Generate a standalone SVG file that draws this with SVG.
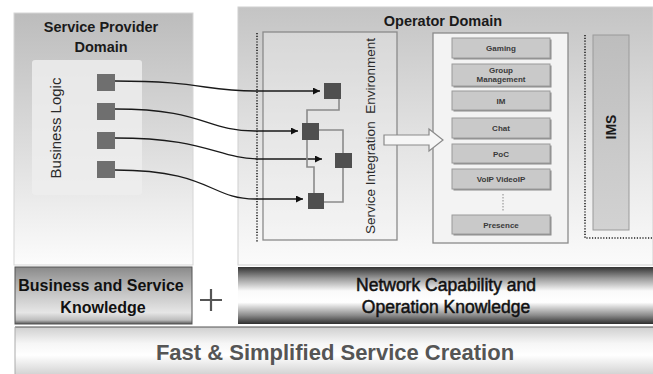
<svg xmlns="http://www.w3.org/2000/svg" width="653" height="374" viewBox="0 0 653 374">
<defs>
<linearGradient id="gDom" x1="0" y1="0" x2="0" y2="1">
<stop offset="0" stop-color="#bcbcbc"/><stop offset="0.55" stop-color="#dedede"/><stop offset="1" stop-color="#fcfcfc"/>
</linearGradient>
<linearGradient id="gOp" x1="0" y1="0" x2="0" y2="1">
<stop offset="0" stop-color="#c4c4c4"/><stop offset="0.5" stop-color="#e2e2e2"/><stop offset="1" stop-color="#fbfbfb"/>
</linearGradient>
<linearGradient id="gBiz" x1="0" y1="0" x2="0" y2="1">
<stop offset="0" stop-color="#8a8a8a"/><stop offset="0.45" stop-color="#c4c4c4"/><stop offset="0.8" stop-color="#e6e6e6"/><stop offset="0.93" stop-color="#bdbdbd"/><stop offset="1" stop-color="#555"/>
</linearGradient>
<linearGradient id="gNet" x1="0" y1="0" x2="0" y2="1">
<stop offset="0" stop-color="#333"/><stop offset="0.2" stop-color="#9a9a9a"/><stop offset="0.42" stop-color="#fafafa"/><stop offset="0.62" stop-color="#ffffff"/><stop offset="0.85" stop-color="#8a8a8a"/><stop offset="1" stop-color="#2e2e2e"/>
</linearGradient>
<linearGradient id="gFast" x1="0" y1="0" x2="0" y2="1">
<stop offset="0" stop-color="#cfcfcf"/><stop offset="0.35" stop-color="#f6f6f6"/><stop offset="0.6" stop-color="#ffffff"/><stop offset="1" stop-color="#d4d4d4"/>
</linearGradient>
<linearGradient id="gIms" x1="0" y1="0" x2="0" y2="1">
<stop offset="0" stop-color="#bdbdbd"/><stop offset="1" stop-color="#d2d2d2"/>
</linearGradient>
<marker id="ah" viewBox="0 0 10 10" refX="10" refY="5" markerWidth="7" markerHeight="7" markerUnits="userSpaceOnUse" orient="auto">
<path d="M0,0 L10,5 L0,10 z" fill="#111"/>
</marker>
<style>
.t{font-family:"Liberation Sans",Arial,sans-serif;}
.title{font-size:14.5px;font-weight:bold;fill:#1a1a1a;text-anchor:middle;}
.svc{fill:#c9c9c9;stroke:#9a9a9a;stroke-width:1;}
.shd{fill:#8c8c8c;}
.svct{font-family:"Liberation Sans",Arial,sans-serif;font-size:8px;font-weight:bold;fill:#3a3a3a;text-anchor:middle;}
.src{fill:#6f6f6f;}
.dst{fill:#4f4f4f;}
.conn{fill:none;stroke:#1a1a1a;stroke-width:1.3;}
.wire{fill:none;stroke:#8a8a8a;stroke-width:1.6;}
.dot{fill:none;stroke:#222;stroke-width:1.6;stroke-dasharray:1.2 1.6;}
</style>
</defs>
<rect width="653" height="374" fill="#fff"/>

<g id="service-provider-domain">
<rect x="14" y="13" width="179" height="252" fill="url(#gDom)" stroke="#d6d6d6" stroke-width="1"/>
<text class="t title" x="101" y="32">Service Provider</text>
<text class="t title" x="101" y="52">Domain</text>
</g>

<g id="business-logic">
<rect x="32" y="60" width="110" height="135" rx="3" fill="#ededed" fill-opacity="0.85"/>
<text class="t" transform="translate(60.5,128) rotate(-90)" text-anchor="middle" font-size="15" fill="#2a2a2a">Business Logic</text>
<rect class="src" x="97" y="74" width="18" height="17"/>
<rect class="src" x="97" y="103" width="18" height="17"/>
<rect class="src" x="97" y="132" width="18" height="17"/>
<rect class="src" x="97" y="161" width="18" height="17"/>
</g>

<g id="operator-domain">
<rect x="238" y="7" width="415" height="258" fill="url(#gOp)" stroke="#d0d0d0" stroke-width="1"/>
<text class="t title" x="443" y="26">Operator Domain</text>
</g>

<g id="service-integration-environment">
<rect x="263" y="32" width="134" height="208" fill="#f2f2f2" fill-opacity="0.35" stroke="#8a8a8a" stroke-width="1.3"/>
<text class="t" transform="translate(375,136) rotate(-90)" text-anchor="middle" font-size="13.5" fill="#2a2a2a" xml:space="preserve">Service Integration  Environment</text>
<rect class="dst" x="324" y="83" width="17" height="16"/>
<rect class="dst" x="302" y="123" width="17" height="17"/>
<rect class="dst" x="335" y="153" width="17" height="15"/>
<rect class="dst" x="308" y="193" width="16" height="16"/>
</g>

<g id="services">
<rect x="433" y="33" width="135" height="210" fill="#f3f3f3" stroke="#8a8a8a" stroke-width="1.3"/>
<rect class="shd" x="453.5" y="39.5" width="98" height="20"/><rect class="svc" x="452" y="38" width="98" height="20"/>
<text class="svct" x="501" y="51">Gaming</text>
<rect class="shd" x="453.5" y="65.5" width="98" height="22"/><rect class="svc" x="452" y="64" width="98" height="22"/>
<text class="svct" x="501" y="73">Group</text><text class="svct" x="501" y="82">Management</text>
<rect class="shd" x="453.5" y="92.5" width="98" height="19"/><rect class="svc" x="452" y="91" width="98" height="19"/>
<text class="svct" x="501" y="104">IM</text>
<rect class="shd" x="453.5" y="119.5" width="98" height="20"/><rect class="svc" x="452" y="118" width="98" height="20"/>
<text class="svct" x="501" y="131">Chat</text>
<rect class="shd" x="453.5" y="145.5" width="98" height="19"/><rect class="svc" x="452" y="144" width="98" height="19"/>
<text class="svct" x="501" y="157">PoC</text>
<rect class="shd" x="453.5" y="170.5" width="98" height="20"/><rect class="svc" x="452" y="169" width="98" height="20"/>
<text class="svct" x="501" y="182">VoIP VideoIP</text>
<line x1="503" y1="194" x2="503" y2="212" stroke="#888" stroke-width="1" stroke-dasharray="1.5 1.5"/>
<rect class="shd" x="453.5" y="216.5" width="98" height="19"/><rect class="svc" x="452" y="215" width="98" height="19"/>
<text class="svct" x="501" y="228">Presence</text>
</g>

<g id="ims">
<rect x="593" y="35" width="36" height="195" fill="url(#gIms)" stroke="#9a9a9a" stroke-width="1"/>
<text class="t" transform="translate(616,127) rotate(-90)" text-anchor="middle" font-size="14" font-weight="bold" fill="#1a1a1a">IMS</text>
</g>

<g id="business-knowledge">
<rect x="15" y="267" width="177" height="57" fill="url(#gBiz)" stroke="#555" stroke-width="1"/>
<text class="t" x="101" y="291" text-anchor="middle" font-size="16" font-weight="bold" fill="#111">Business and Service</text>
<text class="t" x="103" y="313" text-anchor="middle" font-size="16" font-weight="bold" fill="#111">Knowledge</text>
</g>

<g id="plus">
<path d="M200,300 H222 M211,289 V311" stroke="#555" stroke-width="2.2" fill="none"/>
</g>

<g id="network-knowledge">
<rect x="238" y="267" width="415" height="57" fill="url(#gNet)"/>
<text class="t" x="446" y="291" text-anchor="middle" font-size="17.5" fill="#111" stroke="#111" stroke-width="0.5">Network Capability and</text>
<text class="t" x="446" y="313" text-anchor="middle" font-size="17.5" fill="#111" stroke="#111" stroke-width="0.5">Operation Knowledge</text>
</g>

<g id="fast-service-creation">
<rect x="15" y="327" width="638" height="47" fill="url(#gFast)"/>
<line x1="15" y1="327" x2="653" y2="327" stroke="#555" stroke-width="1.2"/>
<line x1="15" y1="327" x2="15" y2="374" stroke="#aaa" stroke-width="1"/>
<text class="t" x="335" y="360" text-anchor="middle" font-size="22" font-weight="bold" fill="#555">Fast &amp; Simplified Service Creation</text>
</g>

<g id="connectors">
<line class="dot" x1="257" y1="33" x2="257" y2="243"/>
<path class="dot" d="M585,35 V238 H653"/>
<path class="conn" marker-end="url(#ah)" d="M115,81 C200,81 205,91 255,91 L320,91"/>
<path class="conn" marker-end="url(#ah)" d="M115,109 C205,109 205,131 255,131 L298,131"/>
<path class="conn" marker-end="url(#ah)" d="M115,138 C210,138 215,159 262,159 L322,159"/>
<path class="conn" marker-end="url(#ah)" d="M115,170 C210,170 210,199 255,199 L303,199"/>
<path class="wire" d="M339,99 V110 H307 V123"/>
<path class="wire" d="M319,130 H343 V153"/>
<path class="wire" d="M343,168 V202 H324"/>
<path class="wire" d="M307,140 V167 H314 V193"/>
<path d="M384,135 H429 V129 L443,140 L429,151 V145 H384 Z" fill="#f6f6f6" stroke="#8a8a8a" stroke-width="1.2"/>
</g>
</svg>
